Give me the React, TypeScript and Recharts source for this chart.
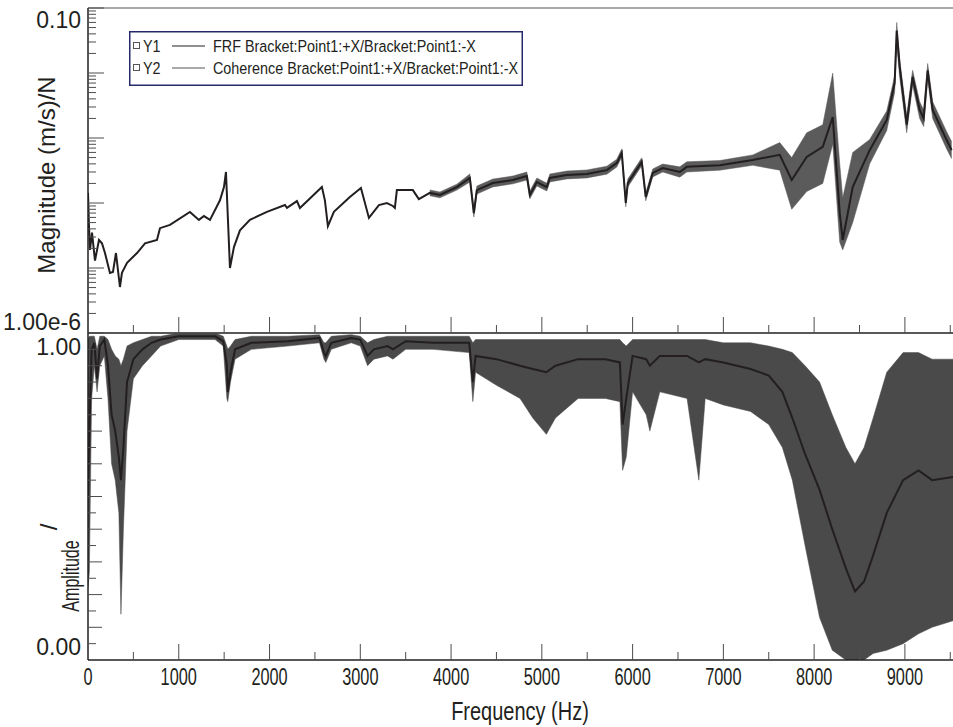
import React from "react";
import { ComposedChart, Line, Area, XAxis, YAxis, ReferenceLine } from "recharts";

// FRF magnitude
const frfFreq = [
  0, 11, 22, 44, 77, 121, 154, 187, 242, 275,
  308, 352, 374, 430, 540, 628, 760, 793, 903, 1123,
  1222, 1277, 1344, 1454, 1498, 1520, 1564, 1608, 1674, 1784,
  1971, 2170, 2192, 2302, 2335, 2577, 2610, 2643, 2709, 2885,
  3007, 3095, 3205, 3293, 3359, 3381, 3403, 3579, 3645, 3766,
  3877, 4064, 4207, 4251, 4284, 4460, 4681, 4835, 4868, 4945,
  5055, 5088, 5275, 5495, 5716, 5826, 5881, 5925, 5947, 6101,
  6145, 6222, 6332, 6520, 6597, 6960, 7324, 7621, 7753, 7918,
  8095, 8205, 8282, 8315, 8425, 8612, 8800, 8887, 8910, 8943,
  9020, 9085, 9163, 9207, 9251, 9306, 9460, 9515,
];
const frfMag = [
  1.43e-4, 4.3e-5, 1.9e-5, 3.5e-5, 1.3e-5, 2.7e-5, 2.4e-5, 1.7e-5, 8.4e-6, 8.7e-6,
  1.7e-5, 5.1e-6, 8.4e-6, 1.2e-5, 1.7e-5, 2.4e-5, 2.7e-5, 4.1e-5, 4.6e-5, 7.3e-5,
  5.5e-5, 6.3e-5, 5.5e-5, 1.1e-4, 1.76e-4, 3.0e-4, 1.0e-5, 2.1e-5, 3.8e-5, 5.5e-5,
  7.3e-5, 9.3e-5, 8.4e-5, 1.07e-4, 8.4e-5, 1.76e-4, 1.1e-4, 4.4e-5, 7.3e-5, 1.24e-4,
  1.7e-4, 5.9e-5, 9.3e-5, 1.0e-4, 9.0e-5, 8.4e-5, 1.58e-4, 1.58e-4, 1.15e-4, 1.43e-4,
  1.33e-4, 1.76e-4, 2.43e-4, 7.0e-5, 1.58e-4, 2.03e-4, 2.26e-4, 2.6e-4, 1.33e-4, 2.1e-4,
  1.76e-4, 2.43e-4, 2.7e-4, 2.8e-4, 3.2e-4, 4.1e-4, 5.9e-4, 1.0e-4, 2.03e-4, 4.3e-4,
  1.24e-4, 2.9e-4, 3.45e-4, 3.0e-4, 3.6e-4, 3.8e-4, 4.6e-4, 5.5e-4, 2.26e-4, 5.1e-4,
  7.3e-4, 2.1e-3, 7.0e-5, 2.7e-5, 1.76e-4, 6.5e-4, 1.9e-3, 7.0e-3, 4.5e-2, 1.24e-2,
  1.6e-3, 8.7e-3, 2.7e-3, 2.0e-3, 1.1e-2, 2.7e-3, 9.3e-4, 6.5e-4,
];
// noise envelope of the FRF, where the trace gets fuzzy
const frfBandFreq = [
  3766, 3877, 4064, 4207, 4251, 4284, 4460, 4681, 4835, 4868,
  4945, 5055, 5088, 5275, 5495, 5716, 5826, 5881, 5925, 5947,
  6101, 6145, 6222, 6332, 6520, 6597, 6960, 7324, 7621, 7753,
  7918, 8095, 8205, 8282, 8315, 8425, 8612, 8800, 8887, 8910,
  8943, 9020, 9085, 9163, 9207, 9251, 9306, 9460, 9515,
];
const frfBandLow = [
  1.29e-4, 1.2e-4, 1.58e-4, 2.1e-4, 6.1e-5, 1.37e-4, 1.77e-4, 1.97e-4, 2.26e-4, 1.16e-4,
  1.83e-4, 1.53e-4, 2.11e-4, 2.35e-4, 2.43e-4, 2.78e-4, 3.57e-4, 5.1e-4, 8.7e-5, 1.77e-4,
  3.74e-4, 1.08e-4, 2.52e-4, 3.0e-4, 2.5e-4, 3.0e-4, 3.2e-4, 3.8e-4, 3.2e-4, 8.0e-5,
  1.5e-4, 2.0e-4, 8.0e-4, 2.5e-5, 1.9e-5, 5.0e-5, 4.0e-4, 1.3e-3, 5.0e-3, 2.8e-2,
  8.5e-3, 1.2e-3, 6.5e-3, 2.0e-3, 1.5e-3, 8.0e-3, 2.0e-3, 6.8e-4, 4.8e-4,
];
const frfBandHigh = [
  1.59e-4, 1.48e-4, 1.95e-4, 2.8e-4, 8.0e-5, 1.82e-4, 2.33e-4, 2.6e-4, 3.0e-4, 1.53e-4,
  2.42e-4, 2.02e-4, 2.79e-4, 3.1e-4, 3.22e-4, 3.68e-4, 4.72e-4, 6.8e-4, 1.15e-4, 2.33e-4,
  4.95e-4, 1.43e-4, 3.34e-4, 3.97e-4, 3.6e-4, 4.3e-4, 4.5e-4, 5.5e-4, 8.5e-4, 5.0e-4,
  1.2e-3, 1.6e-3, 1.0e-2, 4.0e-4, 1.2e-4, 6.0e-4, 9.5e-4, 2.6e-3, 9.0e-3, 6.0e-2,
  1.6e-2, 2.2e-3, 1.1e-2, 3.6e-3, 2.7e-3, 1.4e-2, 3.6e-3, 1.25e-3, 8.8e-4,
];

// coherence
const cohFreq = [
  0, 15, 40, 70, 100, 130, 180, 220, 260, 300,
  340, 363, 390, 430, 500, 600, 700, 800, 1000, 1400,
  1490, 1530, 1540, 1570, 1620, 1800, 2200, 2550, 2600, 2620,
  2680, 2900, 3000, 3080, 3150, 3300, 3360, 3500, 3800, 4200,
  4240, 4270, 4500, 4760, 4900, 5050, 5150, 5400, 5700, 5860,
  5890, 5930, 6000, 6150, 6190, 6300, 6600, 6730, 6800, 7000,
  7300, 7500, 7650, 7760, 7900, 8060, 8200, 8350, 8450, 8550,
  8650, 8800, 8980, 9150, 9300, 9530,
];
const cohMid = [
  0.5, 0.7, 0.95, 0.97, 0.86, 0.96, 0.98, 0.9, 0.75, 0.7,
  0.62, 0.55, 0.65, 0.85, 0.92, 0.95, 0.97, 0.98, 0.99, 0.99,
  0.975, 0.9, 0.82, 0.88, 0.95, 0.97, 0.975, 0.985, 0.94, 0.93,
  0.97, 0.985, 0.98, 0.93, 0.95, 0.96, 0.95, 0.975, 0.97, 0.97,
  0.85, 0.93, 0.92, 0.9, 0.89, 0.88, 0.9, 0.92, 0.92, 0.91,
  0.72, 0.8, 0.93, 0.92, 0.9, 0.93, 0.93, 0.91, 0.92, 0.91,
  0.89, 0.87, 0.82, 0.74, 0.63, 0.52, 0.4, 0.28, 0.21, 0.24,
  0.32, 0.45, 0.55, 0.58, 0.55, 0.56,
];
const cohLow = [
  0.22, 0.27, 0.8, 0.9, 0.82, 0.9, 0.93, 0.8, 0.6, 0.55,
  0.45, 0.14, 0.4, 0.7, 0.86, 0.9, 0.93, 0.96, 0.98, 0.98,
  0.96, 0.8, 0.79, 0.85, 0.92, 0.95, 0.96, 0.97, 0.92, 0.91,
  0.95, 0.97, 0.96, 0.9, 0.92, 0.93, 0.92, 0.95, 0.95, 0.94,
  0.79, 0.88, 0.84, 0.8, 0.74, 0.69, 0.74, 0.8, 0.8, 0.79,
  0.58, 0.62, 0.82, 0.75, 0.7, 0.82, 0.8, 0.55, 0.8, 0.78,
  0.76, 0.72, 0.65, 0.55, 0.35, 0.13, 0.03, 0, 0, 0,
  0.02, 0.03, 0.05, 0.08, 0.1, 0.12,
];
const cohHigh = [
  0.98, 0.99, 0.99, 0.99, 0.95, 0.99, 0.99, 0.98, 0.95, 0.93,
  0.92, 0.9, 0.92, 0.96, 0.97, 0.98, 0.99, 0.99, 1, 1,
  0.99, 0.96, 0.95, 0.96, 0.98, 0.99, 0.99, 0.995, 0.97, 0.97,
  0.99, 0.995, 0.99, 0.97, 0.98, 0.99, 0.99, 0.99, 0.99, 0.99,
  0.97, 0.98, 0.98, 0.98, 0.98, 0.98, 0.98, 0.98, 0.98, 0.98,
  0.97, 0.96, 0.98, 0.98, 0.98, 0.98, 0.98, 0.98, 0.98, 0.97,
  0.97, 0.96, 0.95, 0.94, 0.9, 0.85, 0.75, 0.65, 0.6, 0.65,
  0.74, 0.88, 0.94, 0.94, 0.92, 0.92,
];

const freqTicks = [
  0, 500, 1000, 1500, 2000, 2500, 3000, 3500, 4000, 4500,
  5000, 5500, 6000, 6500, 7000, 7500, 8000, 8500, 9000, 9500,
];
const magDecades = [-6, -5, -4, -3, -2];
const magTicks = [...magDecades.flatMap((d) => [1, 2, 3, 4, 5, 6, 7, 8, 9].map((m) => m * 10 ** d)), 0.1];
const magEndLabels = ["0.10", "1.00e-6"];
const cohTicks = [
  0, 0.05, 0.1, 0.15, 0.2, 0.25, 0.3, 0.35, 0.4, 0.45, 0.5,
  0.55, 0.6, 0.65, 0.7, 0.75, 0.8, 0.85, 0.9, 0.95, 1,
];
const cohEndLabels = ["1.00", "0.00"];
const legendItems = [
  { id: "Y1", name: "FRF Bracket:Point1:+X/Bracket:Point1:-X", color: "#231f20" },
  { id: "Y2", name: "Coherence Bracket:Point1:+X/Bracket:Point1:-X", color: "#555555" },
];

const FONT = "'Liberation Sans', Arial, Helvetica, sans-serif";
const INK = "#231f20";
const AXIS_X = 88;
const TOP_PLOT_BOTTOM = 333;
const BOT_PLOT_BOTTOM = 327; // bottom chart coords (chart starts at y=333)

const frfRows = frfFreq.map((f, i) => {
  const b = frfBandFreq.indexOf(f);
  return { f, mag: frfMag[i], band: b >= 0 ? [frfBandLow[b], frfBandHigh[b]] : undefined };
});
const cohRows = cohFreq.map((f, i) => ({ f, mid: cohMid[i], band: [cohLow[i], cohHigh[i]] }));

// text squeezed along its own direction (the original uses a narrow face)
function NarrowText(props: any) {
  const { x, y, sx = 1, size, anchor = "middle", rotate = 0, children } = props;
  return (
    <text
      transform={`translate(${x},${y}) rotate(${rotate}) scale(${sx},1)`}
      textAnchor={anchor}
      dy="0.35em"
      fontSize={size}
      fontFamily={FONT}
      fill={INK}
    >
      {children}
    </text>
  );
}

function FreqTick(props: any) {
  const { x, payload, plotBottom, withLabel } = props;
  const v = payload.value as number;
  const major = v % 1000 === 0;
  return (
    <g>
      {v > 0 && (
        <line x1={x} x2={x} y1={plotBottom} y2={plotBottom - (major ? 16 : 8)} stroke="#4d4d4d" strokeWidth={1} />
      )}
      {withLabel && major && (
        <NarrowText x={x} y={plotBottom + 17} sx={0.68} size={24}>
          {v}
        </NarrowText>
      )}
    </g>
  );
}

function MagTick(props: any) {
  const { y, payload } = props;
  const v = payload.value as number;
  const lg = Math.log10(v);
  const major = Math.abs(lg - Math.round(lg)) < 1e-6;
  const isTop = v >= magTicks[magTicks.length - 1] * 0.999;
  const isBottom = v <= magTicks[0] * 1.001;
  return (
    <g>
      <line x1={AXIS_X} x2={AXIS_X + (major ? 16 : 8)} y1={y} y2={y} stroke="#4d4d4d" strokeWidth={1} />
      {(isTop || isBottom) && (
        <NarrowText x={81} y={isTop ? y + 12 : y - 11} size={23} anchor="end">
          {isTop ? magEndLabels[0] : magEndLabels[1]}
        </NarrowText>
      )}
    </g>
  );
}

function CohTick(props: any) {
  const { y, payload } = props;
  const v = payload.value as number;
  const major = Math.round(v * 100) % 10 === 0;
  const isTop = v === 1;
  const isBottom = v === 0;
  return (
    <g>
      {!isBottom && !isTop && (
        <line x1={AXIS_X} x2={AXIS_X + (major ? 14 : 8)} y1={y} y2={y} stroke="#4d4d4d" strokeWidth={1} />
      )}
      {(isTop || isBottom) && (
        <NarrowText x={81} y={isTop ? y + 14 : y - 13} size={23} anchor="end">
          {isTop ? cohEndLabels[0] : cohEndLabels[1]}
        </NarrowText>
      )}
    </g>
  );
}

function MagTitle() {
  return (
    <NarrowText x={47} y={175} rotate={-90} size={24}>
      Magnitude (m/s)/N
    </NarrowText>
  );
}

function AmpTitle() {
  // bottom chart coords: page y minus 333
  return (
    <g>
      <NarrowText x={49} y={194} rotate={-90} size={24}>
        /
      </NarrowText>
      <NarrowText x={71} y={243} rotate={-90} sx={0.67} size={24}>
        Amplitude
      </NarrowText>
    </g>
  );
}

function FreqTitle() {
  return (
    <NarrowText x={520} y={378} sx={0.8} size={25}>
      Frequency (Hz)
    </NarrowText>
  );
}

function LegendBox() {
  return (
    <div style={{ position: "absolute", left: 129, top: 31, width: 394, height: 55 }}>
      <svg width={394} height={55} style={{ display: "block" }}>
        <rect x={0.75} y={0.75} width={392.5} height={53.5} fill="#fff" stroke="#262a6a" strokeWidth={1.5} />
        {legendItems.map((it, i) => {
          const cy = 15 + i * 22;
          return (
            <g key={it.id}>
              <rect x={4.5} y={cy - 3.5} width={6} height={6} fill="none" stroke="#555" strokeWidth={1} />
              <NarrowText x={14} y={cy} sx={0.845} size={17} anchor="start">{it.id}</NarrowText>
              <line x1={43} x2={76} y1={cy} y2={cy} stroke={it.color} strokeWidth={1.2} />
              <NarrowText x={84} y={cy} sx={0.845} size={17} anchor="start">{it.name}</NarrowText>
            </g>
          );
        })}
      </svg>
    </div>
  );
}

export default function App() {
  return (
    <div style={{ position: "absolute", left: 0, top: 0, width: 953, height: 727, background: "#fff", overflow: "hidden" }}>
      <div style={{ position: "absolute", left: 0, top: 0 }}>
        <ComposedChart width={953} height={340} data={frfRows} margin={{ top: 8, right: 0, bottom: 0, left: 0 }}>
          <XAxis
            dataKey="f"
            type="number"
            domain={[0, 9530]}
            allowDataOverflow
            ticks={freqTicks}
            interval={0}
            height={7}
            tickLine={false}
            axisLine={{ stroke: INK, strokeWidth: 1.5 }}
            tick={<FreqTick plotBottom={TOP_PLOT_BOTTOM} withLabel={false} />}
          />
          <YAxis
            type="number"
            scale="log"
            domain={[1e-6, 0.1]}
            allowDataOverflow
            ticks={magTicks}
            interval={0}
            width={88}
            tickLine={false}
            axisLine={{ stroke: INK, strokeWidth: 1.5 }}
            tick={<MagTick />}
            label={<MagTitle />}
          />
          <ReferenceLine y={0.1} stroke="#555" strokeWidth={1} />
          <Area dataKey="band" type="linear" stroke="#5b5b5b" strokeWidth={0.5} fill="#5b5b5b" fillOpacity={1} isAnimationActive={false} />
          <Line dataKey="mag" type="linear" stroke={INK} strokeWidth={2} dot={false} isAnimationActive={false} />
        </ComposedChart>
      </div>
      <div style={{ position: "absolute", left: 0, top: 333 }}>
        <ComposedChart width={953} height={394} data={cohRows} margin={{ top: 0, right: 0, bottom: 0, left: 0 }}>
          <XAxis
            dataKey="f"
            type="number"
            domain={[0, 9530]}
            allowDataOverflow
            ticks={freqTicks}
            interval={0}
            height={67}
            tickLine={false}
            axisLine={{ stroke: INK, strokeWidth: 1.5 }}
            tick={<FreqTick plotBottom={BOT_PLOT_BOTTOM} withLabel />}
            label={<FreqTitle />}
          />
          <YAxis
            type="number"
            domain={[0, 1]}
            allowDataOverflow
            ticks={cohTicks}
            interval={0}
            width={88}
            tickLine={false}
            axisLine={{ stroke: INK, strokeWidth: 1.5 }}
            tick={<CohTick />}
            label={<AmpTitle />}
          />
          <Area dataKey="band" type="linear" stroke="#4a4a4a" strokeWidth={0.5} fill="#4a4a4a" fillOpacity={1} isAnimationActive={false} />
          <Line dataKey="mid" type="linear" stroke={INK} strokeWidth={2} dot={false} isAnimationActive={false} />
        </ComposedChart>
      </div>
      <LegendBox />
    </div>
  );
}
